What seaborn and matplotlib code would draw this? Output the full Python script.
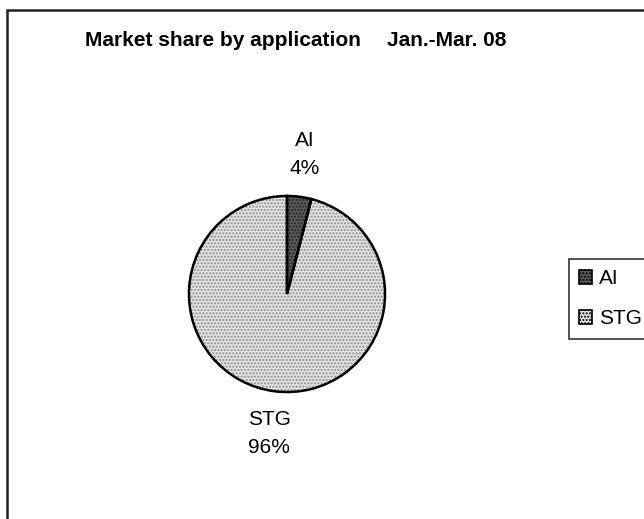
import matplotlib
matplotlib.use("Agg")
import matplotlib.pyplot as plt
import seaborn as sns
from matplotlib.patches import Rectangle

# data
categories = ["AI", "STG"]
shares = [4, 96]
shade = ["#5a5a5a", "#e2e2e2"]
dots = ["#222222", "#8a8a8a"]

sns.set_theme(style="white")
plt.rcParams["font.family"] = ["Liberation Sans", "DejaVu Sans"]
plt.rcParams["text.color"] = "black"

W, H = 644, 519
fig = plt.figure(figsize=(W / 100, H / 100), dpi=100)
fig.patch.set_facecolor("white")

# outer chart frame (runs off the right and bottom of the scan)
fig.patches.append(Rectangle((7 / W, -0.05), 1.2, 1 - 10 / H + 0.05,
                             transform=fig.transFigure, fill=False,
                             edgecolor="#222222", linewidth=1.8))

# pie placed at centre (287, 294), radius 100 px
cx, cy, r = 287, 294, 100
ax = fig.add_axes([(cx - r) / W, (H - cy - r) / H, 2 * r / W, 2 * r / H])
ax.set_aspect("equal")

labels = [f"{c}\n{s}%" for c, s in zip(categories, shares)]
wedges, texts = ax.pie(shares, colors=shade, startangle=90, counterclock=False,
                       labels=labels, labeldistance=1.43,
                       wedgeprops=dict(linewidth=0),
                       textprops=dict(fontsize=15, color="black",
                                      linespacing=1.6))
for w, d in zip(wedges, dots):
    w.set_edgecolor(d)
    w.set_linewidth(0)
    w.set_hatch(".....")
for t in texts:
    t.set_ha("center")

# black outlines on top
ax.pie(shares, colors=["none", "none"], startangle=90, counterclock=False,
       wedgeprops=dict(edgecolor="black", linewidth=1.8))
ax.set_xlim(-1.02, 1.02)
ax.set_ylim(-1.02, 1.02)

# title in two pieces
fig.text(85 / W, 1 - 40 / H, "Market share by application", fontsize=15,
         fontweight="bold", va="center", ha="left", color="black")
fig.text(387 / W, 1 - 40 / H, "Jan.-Mar. 08", fontsize=15,
         fontweight="bold", va="center", ha="left", color="black")

leg = fig.legend(wedges, categories, loc="upper left",
                 bbox_to_anchor=(569 / W, 1 - 259 / H), fontsize=15,
                 frameon=True, fancybox=False, edgecolor="black",
                 handlelength=0.6, handleheight=0.6, handletextpad=0.35,
                 labelspacing=1.0, borderpad=0.5, borderaxespad=0)
leg.get_frame().set_linewidth(1.2)
for t in leg.get_texts():
    t.set_color("black")
for h in leg.legend_handles:
    h.set_edgecolor("black")
    h.set_linewidth(1.2)

fig.savefig("out.png", dpi=100)
